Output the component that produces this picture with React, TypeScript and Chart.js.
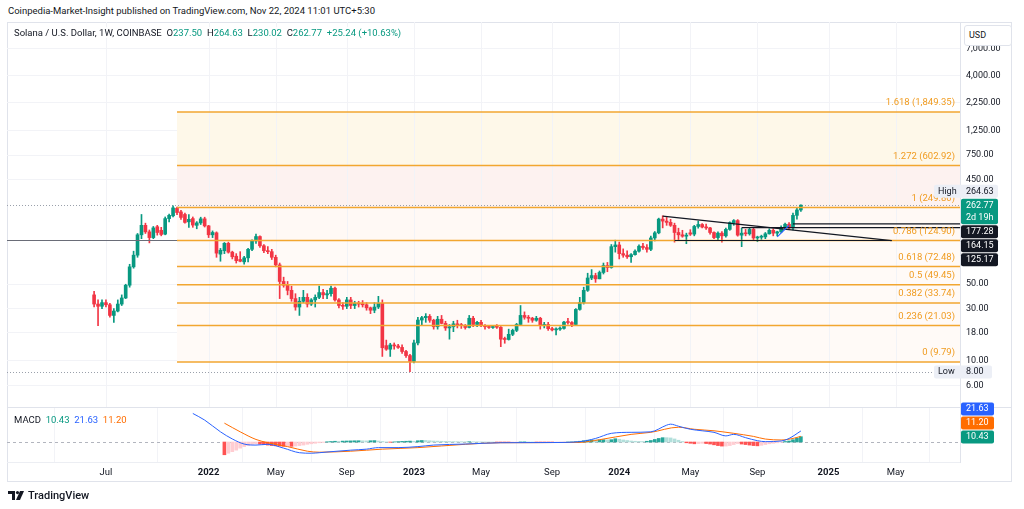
import React, { useEffect, useRef } from 'react';
import { Chart, registerables } from 'chart.js';

Chart.register(...registerables);

const FONT = 'Roboto, "Noto Sans", "DejaVu Sans", sans-serif';
const GREEN = '#089981';
const RED = '#f23645';
const TEXT = '#131722';
const FIB_COLOR = '#f2a630';
const FIB_TEXT = '#f09b1f';
const GRID = '#f2f3f7';

// Weekly candles of SOL/USD (COINBASE); index 0 = week of 2021-06-14. [open, high, low, close]
const weeklyOHLC: number[][] = [
  [40, 43, 31, 33], [33, 36, 21, 31.5], [31.5, 36, 30, 34], [34, 36, 31, 32.5], [32.5, 33.5, 25, 26],
  [26, 30, 22.5, 28.5], [28.5, 36, 28, 33], [33, 40, 32, 37.5], [37.5, 50, 37, 49], [49, 76, 47, 72],
  [72, 100, 70, 92], [92, 145, 88, 141], [141, 216, 130, 172], [172, 180, 145, 150], [150, 156, 119, 133],
  [133, 168, 130, 163], [167, 172, 140, 148], [155, 165, 138, 142], [143, 205, 141, 198], [198, 218, 185, 212],
  [210, 259, 205, 248], [246, 252, 215, 225], [228, 236, 195, 203], [216, 222, 180, 183], [185, 215, 165, 195],
  [198, 205, 165, 173], [172, 186, 160, 181], [181, 204, 175, 197], [197, 204, 166, 170],
  // 2022
  [170, 172, 133, 141], [141, 153, 133, 148], [147, 150, 88, 96], [94, 106, 81, 102], [101, 120, 95, 118],
  [118, 121, 96, 98], [98, 100, 85, 89], [90, 95, 78, 82], [84, 99, 80, 81], [80, 90, 76, 87],
  [87, 106, 80, 104], [104, 127, 101, 124], [124, 143, 118, 136], [136, 138, 108, 112], [112, 115, 97, 101],
  [101, 110, 95, 99], [99, 104, 84, 88], [88, 92, 72, 75], [75, 78, 37, 53], [53, 58, 47, 49],
  [49, 53, 40, 44], [44, 48, 35, 37], [37, 41, 29, 31], [31, 38, 26, 35], [35, 44, 34, 38],
  [38, 41, 31, 33], [33, 37, 32, 36], [36, 40, 31, 38], [38, 48, 37, 42], [42, 45, 37, 40],
  [40, 44, 37, 41], [41, 48, 39, 46], [46, 47, 35, 36], [36, 37, 30.5, 32], [32, 34, 29.5, 31.5],
  [31.5, 38, 30, 36], [36, 38, 30, 32], [32, 35, 30, 33.5], [33.5, 35, 31, 33], [33, 35.5, 31, 32.5],
  [32.5, 34, 29, 30.5], [30.5, 31, 27, 29], [29, 34, 27.5, 31], [31, 38.8, 30, 33.5], [33.5, 36, 11, 13.2],
  [13.8, 15.5, 12.5, 12.8], [12.8, 14.5, 11, 14], [14, 14.6, 12.8, 13.7], [13.7, 14.2, 13, 13.3], [13.3, 14, 11.7, 12.2],
  [12.2, 12.5, 10.8, 11.2], [11.2, 11.5, 8.0, 9.9],
  // 2023
  [9.9, 15.5, 9.6, 14.6], [14.6, 25, 14, 23.6], [23.6, 25.5, 21, 24.8], [24.8, 27, 22.5, 25.5], [25.5, 26.5, 22.5, 23.5],
  [23.5, 24, 19.5, 20.5], [20.5, 25.5, 19.5, 24], [24, 26, 21.8, 22], [22, 23, 19, 20], [20, 21.5, 15.8, 20.5],
  [20.5, 23, 18.5, 21.8], [21.8, 23.5, 20, 21.2], [21.2, 22, 19.8, 21], [21, 21.5, 19.5, 20.2], [20.2, 26, 20, 24.5],
  [24.5, 25.5, 20.5, 21.5], [21.5, 23, 20.5, 22.5], [22.5, 23.5, 20.5, 21], [21, 21.5, 19.5, 20.5], [20.5, 21, 19.8, 20.2],
  [20.2, 21, 19.8, 20.6], [20.6, 21.5, 19.8, 20.3], [20.3, 20.6, 13.5, 15.8], [15.8, 16.5, 14.5, 15.7], [15.7, 19.5, 15.5, 17.5],
  [17.5, 19.5, 17, 19], [19, 22, 18.5, 21.5], [21.5, 32, 21, 26], [26, 28, 24, 25], [25, 26, 22.5, 24.5],
  [24.5, 25, 22.5, 23.5], [23.5, 25.5, 23, 24.5], [24.5, 25, 19.5, 21], [21, 22.5, 20, 21.5], [21.5, 22.5, 19, 19.7],
  [19.7, 20.3, 18.8, 19.2], [19.2, 20, 17.3, 19.5], [19.5, 20.5, 19, 19.8], [19.8, 23, 19.5, 22.6], [22.6, 24.5, 21.7, 22.4],
  [22.4, 22.8, 20.5, 21.5], [21.5, 30, 21, 29.5], [29.5, 38, 29, 34], [34, 47, 33, 44], [44, 63, 43, 57],
  [57, 68, 55, 60], [60, 63, 52, 56], [56, 66, 56, 64], [64, 78, 62, 74], [74, 79, 65, 71],
  [71, 115, 70, 110], [110, 126, 98, 114],
  // 2024
  [114, 121, 85, 95], [95, 105, 88, 92], [92, 101, 86, 89], [89, 95, 79, 93], [93, 103, 92, 100],
  [100, 114, 98, 111], [111, 118, 104, 108], [108, 115, 98, 104], [104, 137, 101, 132], [132, 151, 124, 147],
  [147, 200, 144, 196], [196, 210, 163, 188], [188, 203, 172, 183], [183, 195, 168, 172], [172, 180, 121, 148],
  [148, 162, 126, 141], [141, 155, 134, 137], [137, 146, 117, 140], [147, 157, 139, 143], [143, 172, 138, 168],
  [168, 188, 162, 175], [175, 178, 163, 166], [166, 177, 158, 163], [163, 165, 143, 148], [148, 150, 130, 133],
  [133, 150, 125, 146], [146, 151, 121, 138], [138, 162, 134, 158], [158, 185, 155, 182], [182, 194, 172, 190],
  [190, 194, 137, 140], [140, 162, 110, 146], [146, 158, 138, 144], [144, 163, 140, 158], [158, 163, 127, 132],
  [132, 137, 122, 134], [134, 140, 128, 135], [135, 148, 130, 144], [144, 160, 143, 155], [155, 160, 138, 146],
  [146, 152, 138, 150], [150, 170, 148, 165], [165, 180, 160, 176], [176, 182, 160, 163], [163, 222, 156, 212],
  [212, 248, 196, 237.5], [237.5, 264.63, 230.02, 262.77],
];

// Time axis (week index of the first weekly bar of each labelled month)
const monthTickWeeks = [3, 29, 46, 64, 81, 98, 116, 133, 151, 168, 186, 203];
const monthTickLabels = ['Jul', '2022', 'May', 'Sep', '2023', 'May', 'Sep', '2024', 'May', 'Sep', '2025', 'May'];
const xMinWeek = -22.06;
const xMaxWeek = 219.3;

// Price axis
const priceTicks = [7000, 4000, 2250, 1250, 750, 450, 50, 30, 18, 10, 6];
const priceMin = 3.81;
const priceMax = 12230;

// Fibonacci retracement
const fibRatios = ['1.618', '1.272', '1', '0.786', '0.618', '0.5', '0.382', '0.236', '0'];
const fibPrices = [1849.35, 602.92, 249.8, 124.9, 72.48, 49.45, 33.74, 21.03, 9.79];
const fibStartWeek = 21;
const fibZoneColors = ['#fef8e9', '#fdf2f0', '#fff9f5', '#fffaf7', '#fffaf7', '#fffaf7', '#fffaf7', '#fffaf7'];

// Drawn trend lines: [week, price] -> [week, price]
const trendFromWeeks = [144, 147, 173];
const trendFromPrices = [209, 125.17, 135];
const trendToWeeks = [202, 202, 176];
const trendToPrices = [124.6, 125.17, 172];
const trendColors = [TEXT, TEXT, '#2962ff'];

// Horizontal rays extending right
const rayStartWeeks = [xMinWeek, 164, 177];
const rayPrices = [125.17, 164.15, 177.28];
const rayColors = ['#6a6d78', TEXT, TEXT];

const lastPrice = 262.77;
const highPrice = 264.63;
const lowPrice = 8.0;

// MACD (12, 26, 9)
const macdWeeks = [25, 28, 32, 35, 38, 41, 44, 48, 52, 55, 57, 60, 65, 69, 72, 77, 82, 86, 94, 103, 116, 123, 127, 131, 136, 141, 145, 146, 148, 151, 154, 157, 160, 162, 165, 168, 170, 174, 176, 179];
const macdValues = [56, 43, 20, 6, -4, -6, -4.5, -12, -21, -22, -21, -19, -16, -14, -11, -11, -9, -6, -4, -1.4, -1, 0.7, 7, 17, 19, 20, 33, 35, 31, 25, 22, 19, 12, 15, 8.5, 2.6, 0.7, 2, 7, 21.63];
const signalWeeks = [33, 37, 41, 44, 49, 54, 57, 65, 73, 82, 94, 103, 123, 128, 136, 141, 148, 152, 157, 162, 167, 170, 174, 177, 179];
const signalValues = [37, 20, 5, -1.4, -9, -18, -20, -18, -14, -11, -4.5, -1.4, -0.7, 4.5, 15, 19, 29, 25, 22, 17, 11, 5.8, 4, 7, 11.2];
const histStartWeek = 33;
const histValues = [
  -25, -22, -19, -16, -12, -9, -7, -4.5,
  -3.5, -4, -5, -6, -7, -7.5, -8, -8.5, -8, -8.5, -8,
  -7, -6, -4.5, -3.5, -2.5, -1.5, -0.8,
  0.5, 1, 1.5, 1.5, 1.8, 2, 2.2, 2.4, 2.5, 2.4, 2.2, 2.5, 2.8, 2, 1, 0.2, -0.5, 0.3, 0.8, 1.2, 1.5, 1.8,
  1.5, 2.5, 3, 3, 2.5, 2, 1.8, 1.5, 1.2, 1, 0.8, 0.7, 0.6, 0.5, 0.6, 0.5, 0.4, 0.3, 0.2, 0.1,
  0, -0.2, -0.5, -0.8, -0.9, -0.7, -0.4, 0.2, 0.3, 0.1, 0, -0.1, -0.3, -0.5, -0.6, -0.7, -0.6, -0.4, -0.2, 0, 0.2, 0.6,
  1.5, 2.5, 3.5, 4, 4, 4.2, 4.5, 4.2, 4.6,
  6.5, 5.5, 4, 3, 2, 1.5, 1.2, 1, 1.5,
  3, 5, 7, 8.5, 8.5, 8,
  6, 3.5, 1,
  -1.5, -2.5, -3.5, -3, -2.5, -3, -4, -5.5, -7, -8, -8, -7, -5,
  -3, -4, -5, -6, -7, -7.5, -6.5, -5,
  -3.5, -2.5, -1.5, -0.5,
  1, 2, 4.5, 7.5, 10.43,
];
const macdMin = -39.2;
const macdMax = 66.7;

const fmt = (v: number) => v.toLocaleString('en-US', { minimumFractionDigits: 2, maximumFractionDigits: 2 });

type AxisLabel = { v: number; lines: string[]; bg: string; fg: string; tag?: string; anchor?: boolean };

function drawAxisLabels(chart: any, labels: AxisLabel[], boxLeft: number, boxRight: number) {
  const { ctx, scales } = chart;
  const y = scales.y;
  const lh = 12.5;
  const placed = labels.map((l) => {
    const h = lh * l.lines.length + 0.5;
    const yy = y.getPixelForValue(l.v);
    return { ...l, h, top: yy - lh / 2 };
  });
  const ai = placed.findIndex((p) => p.anchor);
  for (let i = ai - 1; i >= 0; i--) {
    const maxBottom = placed[i + 1].top - 1;
    if (placed[i].top + placed[i].h > maxBottom) placed[i].top = maxBottom - placed[i].h;
  }
  for (let i = ai + 1; i < placed.length; i++) {
    const minTop = placed[i - 1].top + placed[i - 1].h + 1;
    if (placed[i].top < minTop) placed[i].top = minTop;
  }
  ctx.save();
  ctx.font = `9px ${FONT}`;
  ctx.textBaseline = 'middle';
  placed.forEach((p) => {
    const left = p.tag ? chart.chartArea.right - 26 : boxLeft;
    ctx.fillStyle = p.bg;
    ctx.beginPath();
    (ctx as any).roundRect ? (ctx as any).roundRect(left, p.top, boxRight - left, p.h, 2) : ctx.rect(left, p.top, boxRight - left, p.h);
    ctx.fill();
    ctx.fillStyle = p.fg;
    ctx.textAlign = 'left';
    if (p.tag) ctx.fillText(p.tag, left + 4, p.top + lh / 2 + 0.5);
    p.lines.forEach((t, k) => ctx.fillText(t, boxLeft + 5, p.top + lh / 2 + k * lh + 0.5));
  });
  ctx.restore();
}

const mainOverlay = {
  id: 'mainOverlay',
  beforeDatasetsDraw(chart: any) {
    const { ctx, chartArea: a, scales } = chart;
    const x = scales.x;
    const y = scales.y;
    ctx.save();
    ctx.beginPath();
    ctx.rect(a.left, a.top, a.right - a.left, a.bottom - a.top);
    ctx.clip();
    const x0 = x.getPixelForValue(fibStartWeek);
    for (let k = 0; k < fibPrices.length - 1; k++) {
      const t = y.getPixelForValue(fibPrices[k]);
      const b = y.getPixelForValue(fibPrices[k + 1]);
      ctx.fillStyle = fibZoneColors[k];
      ctx.fillRect(x0, t, a.right - x0, b - t);
    }
    // vertical time grid
    ctx.strokeStyle = GRID;
    ctx.lineWidth = 1;
    monthTickWeeks.forEach((w) => {
      const xx = Math.round(x.getPixelForValue(w)) + 0.5;
      ctx.beginPath();
      ctx.moveTo(xx, a.top);
      ctx.lineTo(xx, a.bottom);
      ctx.stroke();
    });
    // dotted last-price and low lines
    ctx.setLineDash([1, 2]);
    ctx.strokeStyle = '#9aa0ab';
    [lastPrice, lowPrice].forEach((p) => {
      const yy = Math.round(y.getPixelForValue(p)) + 0.5;
      ctx.beginPath();
      ctx.moveTo(a.left, yy);
      ctx.lineTo(a.right, yy);
      ctx.stroke();
    });
    ctx.setLineDash([]);
    ctx.restore();
  },
  afterDatasetsDraw(chart: any) {
    const { ctx, chartArea: a, scales } = chart;
    const x = scales.x;
    const y = scales.y;
    ctx.save();
    ctx.beginPath();
    ctx.rect(a.left, a.top, a.right - a.left, a.bottom - a.top);
    ctx.clip();
    rayPrices.forEach((p, i) => {
      const yy = y.getPixelForValue(p);
      ctx.strokeStyle = rayColors[i];
      ctx.lineWidth = 1.2;
      ctx.beginPath();
      ctx.moveTo(x.getPixelForValue(rayStartWeeks[i]), yy);
      ctx.lineTo(a.right, yy);
      ctx.stroke();
    });
    const x0 = x.getPixelForValue(fibStartWeek);
    ctx.strokeStyle = FIB_COLOR;
    ctx.lineWidth = 1.5;
    fibPrices.forEach((p) => {
      const yy = y.getPixelForValue(p);
      ctx.beginPath();
      ctx.moveTo(x0, yy);
      ctx.lineTo(a.right, yy);
      ctx.stroke();
    });
    trendFromWeeks.forEach((w, i) => {
      ctx.strokeStyle = trendColors[i];
      ctx.lineWidth = 1.2;
      ctx.beginPath();
      ctx.moveTo(x.getPixelForValue(w), y.getPixelForValue(trendFromPrices[i]));
      ctx.lineTo(x.getPixelForValue(trendToWeeks[i]), y.getPixelForValue(trendToPrices[i]));
      ctx.stroke();
    });
    ctx.font = `9.5px ${FONT}`;
    ctx.fillStyle = FIB_TEXT;
    ctx.textAlign = 'right';
    ctx.textBaseline = 'middle';
    fibPrices.forEach((p, i) => {
      const yy = y.getPixelForValue(p);
      ctx.fillText(`${fibRatios[i]} (${fmt(p)})`, a.right - 5, yy - 9);
    });
    ctx.restore();
  },
  afterDraw(chart: any) {
    const labels: AxisLabel[] = [
      { v: highPrice, lines: [fmt(highPrice)], bg: '#eceff6', fg: TEXT, tag: 'High' },
      { v: lastPrice, lines: [fmt(lastPrice), '2d 19h'], bg: GREEN, fg: '#ffffff', anchor: true },
      { v: 177.28, lines: ['177.28'], bg: TEXT, fg: '#ffffff' },
      { v: 164.15, lines: ['164.15'], bg: TEXT, fg: '#ffffff' },
      { v: 125.17, lines: ['125.17'], bg: TEXT, fg: '#ffffff' },
    ];
    drawAxisLabels(chart, labels, 961, 998);
    drawAxisLabels(chart, [{ v: lowPrice, lines: [fmt(lowPrice)], bg: '#eceff6', fg: TEXT, tag: 'Low', anchor: true }], 961, 992);
  },
};

const macdOverlay = {
  id: 'macdOverlay',
  beforeDatasetsDraw(chart: any) {
    const { ctx, chartArea: a, scales } = chart;
    const yy = Math.round(scales.y.getPixelForValue(0)) + 0.5;
    ctx.save();
    ctx.strokeStyle = '#b2b5be';
    ctx.lineWidth = 1;
    ctx.setLineDash([3, 3]);
    ctx.beginPath();
    ctx.moveTo(a.left, yy);
    ctx.lineTo(a.right + 10, yy);
    ctx.stroke();
    ctx.restore();
  },
  afterDraw(chart: any) {
    const n = macdValues.length;
    const labels: AxisLabel[] = [
      { v: macdValues[n - 1], lines: [fmt(macdValues[n - 1])], bg: '#2962ff', fg: '#ffffff' },
      { v: signalValues[signalValues.length - 1], lines: [fmt(signalValues[signalValues.length - 1])], bg: '#ff6d00', fg: '#ffffff' },
      { v: histValues[histValues.length - 1], lines: [fmt(histValues[histValues.length - 1])], bg: GREEN, fg: '#ffffff', anchor: true },
    ];
    drawAxisLabels(chart, labels, 961, 994);
  },
};

const xTicksFromWeeks = (scale: any) => {
  scale.ticks = monthTickWeeks.map((v) => ({ value: v }));
};
const zeroPad = (s: any) => {
  s.paddingTop = 0;
  s.paddingBottom = 0;
  s.paddingLeft = 0;
  s.paddingRight = 0;
};

function mainConfig(): any {
  const wicks = weeklyOHLC.map((c, i) => ({ x: i, y: [c[2], c[1]] }));
  const bodies = weeklyOHLC.map((c, i) => ({ x: i, y: [c[0], c[3]] }));
  const colors = weeklyOHLC.map((c) => (c[3] >= c[0] ? GREEN : RED));
  return {
    type: 'bar',
    data: {
      datasets: [
        { data: wicks, backgroundColor: colors, barThickness: 1, grouped: false, minBarLength: 1 },
        { data: bodies, backgroundColor: colors, barThickness: 3, grouped: false, minBarLength: 1 },
      ],
    },
    options: {
      animation: false,
      responsive: false,
      devicePixelRatio: 1,
      layout: { padding: { left: 7, right: 0, top: 0, bottom: 0 } },
      plugins: { legend: { display: false }, tooltip: { enabled: false } },
      scales: {
        x: {
          type: 'linear',
          display: false,
          min: xMinWeek,
          max: xMaxWeek,
          offset: false,
        },
        y: {
          type: 'logarithmic',
          position: 'right',
          min: priceMin,
          max: priceMax,
          afterBuildTicks: (s: any) => { s.ticks = priceTicks.map((v) => ({ value: v })); },
          afterFit: (s: any) => { s.width = 64; zeroPad(s); },
          ticks: {
            callback: (v: any) => fmt(Number(v)),
            font: { family: FONT, size: 9 },
            color: TEXT,
            padding: 6,
            autoSkip: false,
          },
          grid: { color: GRID, drawTicks: false },
          border: { display: true, color: '#e0e3eb' },
        },
      },
    },
    plugins: [mainOverlay],
  };
}

function macdConfig(): any {
  const hist = histValues.map((v, k) => ({ x: histStartWeek + k, y: v }));
  const histColors = histValues.map((v, k) => {
    const prev = k > 0 ? histValues[k - 1] : 0;
    if (v >= 0) return v > prev ? '#26a69a' : '#b2dfdb';
    return v < prev ? '#ff5252' : '#ffcdd2';
  });
  return {
    type: 'bar',
    data: {
      datasets: [
        { type: 'line', data: macdWeeks.map((w, i) => ({ x: w, y: macdValues[i] })), borderColor: '#2962ff', borderWidth: 1, pointRadius: 0, cubicInterpolationMode: 'monotone', order: 1 },
        { type: 'line', data: signalWeeks.map((w, i) => ({ x: w, y: signalValues[i] })), borderColor: '#ff6d00', borderWidth: 1, pointRadius: 0, cubicInterpolationMode: 'monotone', order: 2 },
        { type: 'bar', data: hist, backgroundColor: histColors, barThickness: 3, grouped: false, order: 3 },
      ],
    },
    options: {
      animation: false,
      responsive: false,
      devicePixelRatio: 1,
      layout: { padding: { left: 7, right: 0, top: 13, bottom: 0 } },
      plugins: { legend: { display: false }, tooltip: { enabled: false } },
      scales: {
        x: {
          type: 'linear',
          min: xMinWeek,
          max: xMaxWeek,
          offset: false,
          afterBuildTicks: xTicksFromWeeks,
          afterFit: (s: any) => { s.height = 20; zeroPad(s); },
          ticks: {
            callback: (_v: any, i: number) => monthTickLabels[i],
            font: (c: any) => ({ family: FONT, size: 9.5, weight: /^\d{4}$/.test(monthTickLabels[c.index] || '') ? 'bold' : 'normal' }),
            color: TEXT,
            padding: 5,
            maxRotation: 0,
            autoSkip: false,
          },
          grid: { color: GRID, drawTicks: false },
          border: { display: true, color: '#eceef3' },
        },
        y: {
          type: 'linear',
          position: 'right',
          min: macdMin,
          max: macdMax,
          afterFit: (s: any) => { s.width = 64; zeroPad(s); },
          ticks: { display: false },
          grid: { display: false },
          border: { display: true, color: '#e0e3eb' },
        },
      },
    },
    plugins: [macdOverlay],
  };
}

const green = { color: GREEN };

export default function App() {
  const mainRef = useRef<HTMLCanvasElement>(null);
  const macdRef = useRef<HTMLCanvasElement>(null);
  useEffect(() => {
    const c1 = new Chart(mainRef.current as HTMLCanvasElement, mainConfig());
    const c2 = new Chart(macdRef.current as HTMLCanvasElement, macdConfig());
    return () => {
      c1.destroy();
      c2.destroy();
    };
  }, []);
  return (
    <div style={{ position: 'absolute', left: 0, top: 0, width: 1024, height: 509, background: '#ffffff', fontFamily: FONT, color: TEXT, overflow: 'hidden' }}>
      <div style={{ position: 'absolute', left: 8, top: 5, fontSize: 9.5, whiteSpace: 'nowrap' }}>
        Coinpedia-Market-Insight published on TradingView.com, Nov 22, 2024 11:01 UTC+5:30
      </div>
      <div style={{ position: 'absolute', left: 7, top: 22, width: 1005, height: 460, border: '1px solid #e0e3eb', boxSizing: 'border-box' }} />
      <div style={{ position: 'absolute', left: 7, top: 407, width: 1005, height: 1, background: '#e0e3eb' }} />
      <canvas ref={mainRef} width={1024} height={385} style={{ position: 'absolute', left: 0, top: 22, width: 1024, height: 385 }} />
      <canvas ref={macdRef} width={1024} height={87} style={{ position: 'absolute', left: 0, top: 395, width: 1024, height: 87 }} />
      <div style={{ position: 'absolute', left: 14, top: 27, fontSize: 9.5, whiteSpace: 'nowrap', background: 'rgba(255,255,255,0.85)' }}>
        Solana / U.S. Dollar, 1W, COINBASE&nbsp;&nbsp;O<span style={green}>237.50</span>&nbsp;&nbsp;H<span style={green}>264.63</span>&nbsp;&nbsp;L<span style={green}>230.02</span>&nbsp;&nbsp;C<span style={green}>262.77</span>&nbsp;&nbsp;<span style={green}>+25.24 (+10.63%)</span>
      </div>
      <div style={{ position: 'absolute', left: 964, top: 25, width: 48, height: 21, border: '1px solid #e0e3eb', borderRadius: 3, background: '#ffffff', boxSizing: 'border-box', fontSize: 9, paddingLeft: 4, lineHeight: '19px' }}>
        USD
      </div>
      <div style={{ position: 'absolute', left: 14, top: 414, fontSize: 9.5, whiteSpace: 'nowrap' }}>
        MACD&nbsp;&nbsp;<span style={{ color: GREEN }}>10.43</span>&nbsp;&nbsp;<span style={{ color: '#2962ff' }}>21.63</span>&nbsp;&nbsp;<span style={{ color: '#ff6d00' }}>11.20</span>
      </div>
      <div style={{ position: 'absolute', left: 8, top: 489, display: 'flex', alignItems: 'center', gap: 4 }}>
        <svg width="16" height="10" viewBox="0 0 16 10">
          <path d="M0 0 H7 V9 H4 V3 H0 Z" fill={TEXT} />
          <circle cx="9.5" cy="1.6" r="1.6" fill={TEXT} />
          <path d="M12 0 H16 L12 9 H8 Z" fill={TEXT} />
        </svg>
        <span style={{ fontSize: 11, fontWeight: 500, color: TEXT }}>TradingView</span>
      </div>
    </div>
  );
}
